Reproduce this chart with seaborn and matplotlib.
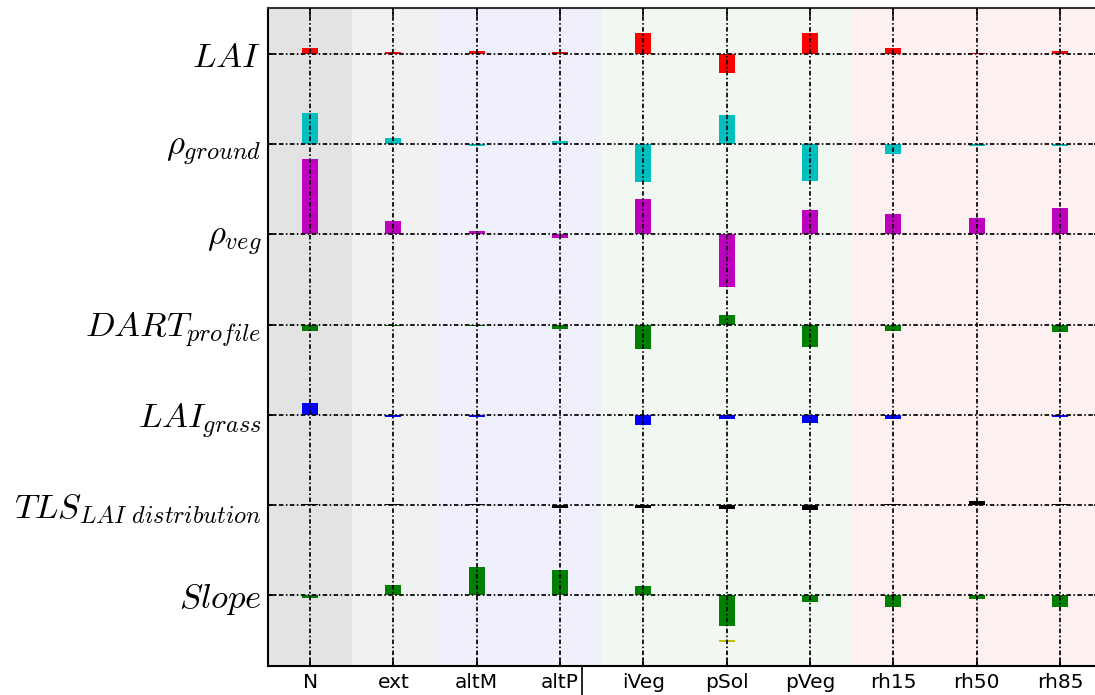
import numpy as np
import pandas as pd
import matplotlib
matplotlib.use("Agg")
import matplotlib.pyplot as plt
import seaborn as sns
from matplotlib.lines import Line2D

# ---------------- data ----------------
categories = ["N", "ext", "altM", "altP", "iVeg", "pSol", "pVeg", "rh15", "rh50", "rh85"]
row_labels = [r"$LAI$", r"$\rho_{ground}$", r"$\rho_{veg}$", r"$DART_{profile}$",
              r"$LAI_{grass}$", r"$TLS_{LAI\ distribution}$", r"$Slope$"]

lai        = [0.063, 0.019, 0.033, 0.019, 0.230, -0.214, 0.230, 0.063, 0.006, 0.033]
rho_ground = [0.347, 0.067, -0.022, 0.037, -0.425, 0.318, -0.410, -0.114, -0.022, -0.022]
rho_veg    = [0.839, 0.144, 0.041, -0.037, 0.396, -0.588, 0.274, 0.229, 0.185, 0.288]
dart       = [-0.067, -0.022, -0.019, -0.052, -0.270, 0.111, -0.244, -0.067, -0.006, -0.081]
lai_grass  = [0.125, -0.022, -0.022, -0.006, -0.111, -0.052, -0.096, -0.052, -0.004, -0.022]
tls        = [0.014, 0.004, 0.004, -0.030, -0.030, -0.044, -0.059, 0.014, 0.044, 0.014]
slope      = [-0.033, 0.114, 0.307, 0.274, 0.100, -0.344, -0.081, -0.136, -0.048, -0.136]

# small yellow marker below the Slope row (pSol column)
extra_cat = ["pSol"]
extra_bottom = [-0.521]
extra_height = [0.022]

row_values = [lai, rho_ground, rho_veg, dart, lai_grass, tls, slope]
row_colors = ["#ff0000", "#00bfbf", "#bf00bf", "#008000", "#0000ff", "#000000", "#008000"]

bands = [(-0.5, 0.5, "#e3e3e3"), (0.5, 1.5, "#f1f1f1"), (1.5, 3.5, "#f0f0fc"),
         (3.5, 6.5, "#f1f8f1"), (6.5, 9.5, "#fdf0f0")]

# ---------------- style ----------------
sns.set_style("white")
plt.rcParams["mathtext.fontset"] = "cm"
plt.rcParams["font.family"] = ["DejaVu Sans"]

fig = plt.figure(figsize=(10.95, 6.95), dpi=100)
ax = fig.add_axes([268.4 / 1095, 1 - 666 / 695, 833.3 / 1095, 658 / 695])

for x0, x1, c in bands:
    ax.axvspan(x0, x1, color=c, lw=0, zorder=0)

n_rows = len(row_values)
baselines = [n_rows - i for i in range(n_rows)]

for vals, col, base in zip(row_values, row_colors, baselines):
    df = pd.DataFrame({"cat": categories, "val": vals})
    sns.barplot(data=df, x="cat", y="val", order=categories, color=col,
                saturation=1, width=0.19, bottom=base, errorbar=None,
                linewidth=0, ax=ax, zorder=2)

dfe = pd.DataFrame({"cat": extra_cat, "val": extra_height})
sns.barplot(data=dfe, x="cat", y="val", order=categories, color="#bfbf00",
            saturation=1, width=0.19, bottom=baselines[-1] + extra_bottom[0],
            errorbar=None, linewidth=0, ax=ax, zorder=2)

ax.set_xlim(-0.5, 9.5)
ax.set_ylim(0.213, 7.51)
ax.set_xticks(range(len(categories)))
ax.set_xticklabels(categories, fontsize=14.5)
ax.set_yticks(baselines)
ax.set_yticklabels(row_labels, fontsize=25)
ax.set_xlabel("")
ax.set_ylabel("")

ax.grid(True, axis="both", linestyle=(0, (2.6, 1.4, 0.9, 1.4)), color="#000000", linewidth=1.25)
ax.set_axisbelow(False)
ax.tick_params(direction="in", length=6, width=1.2, top=True, right=True,
               bottom=True, left=True, colors="black", pad=5)
for s in ax.spines.values():
    s.set_visible(True)
    s.set_color("black")
    s.set_linewidth(1.5)
ax.spines["top"].set_color("#333333")

# stray vertical line under the axis (present in the source figure)
fig.add_artist(Line2D([582 / 1095, 582 / 1095], [0, 1 - 667 / 695], color="black", lw=1.2))

fig.savefig("out.png", dpi=100)
